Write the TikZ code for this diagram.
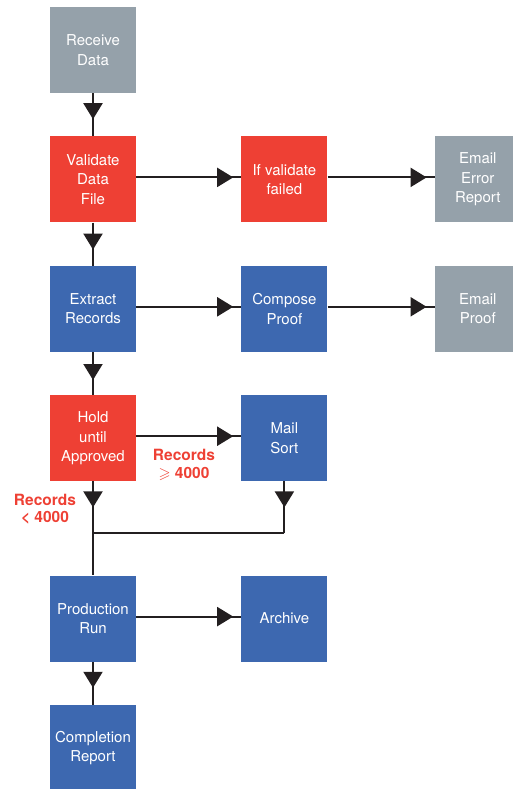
\documentclass[tikz,border=0pt]{standalone}
\usepackage{amssymb}
\usepackage{fontspec}
\setmainfont{TeX Gyre Heros}
\usetikzlibrary{positioning,arrows.meta,decorations.markings}

\definecolor{boxgray}{RGB}{149,161,170}
\definecolor{boxred}{RGB}{238,64,52}
\definecolor{boxblue}{RGB}{61,104,176}
\definecolor{linedark}{RGB}{35,31,32}

\tikzset{
  stepbox/.style={minimum width=86pt, minimum height=86pt, inner sep=0pt,
    text=white, align=center, font=\fontsize{15}{19.5}\selectfont},
  graybox/.style={stepbox, fill=boxgray},
  redbox/.style={stepbox, fill=boxred},
  bluebox/.style={stepbox, fill=boxblue},
  flow/.style={draw=linedark, line width=2pt, postaction={decorate},
    decoration={markings, mark=at position -#1 with
      {\arrow[linedark]{Triangle[width=19pt,length=16pt]}}}},
  flow/.default=8pt,
  condlabel/.style={text=boxred, align=center,
    font=\fontsize{15.5}{17.5}\selectfont\bfseries}
}

\begin{document}
\begin{tikzpicture}[x=1pt,y=-1pt]
  \useasboundingbox (0,0) rectangle (513,789);
  \clip (0,0) rectangle (513,789);

  % main column
  \node[graybox] (receive) at (93,50) {Receive\\Data};
  \node[redbox, below=43pt of receive] (validate) {Validate\\Data\\File};
  \node[bluebox, below=43pt of validate] (extract) {Extract\\Records};
  \node[redbox, below=43pt of extract] (hold) {Hold\\until\\Approved};
  \node[bluebox, below=94pt of hold] (prod) {Production\\Run};
  \node[bluebox, below=43pt of prod] (report) {Completion\\Report};

  % side branches
  \node[redbox, right=105pt of validate] (failed) {If validate\\failed};
  \node[graybox, right=107pt of failed] (errmail) {Email\\Error\\Report};
  \node[bluebox, right=105pt of extract] (proof) {Compose\\Proof};
  \node[graybox, right=107pt of proof] (proofmail) {Email\\Proof};
  \node[bluebox, right=105pt of hold] (sort) {Mail\\Sort};
  \node[bluebox, right=105pt of prod] (archive) {Archive};

  \node[condlabel] (big) at (184,465) {Records\\$\geqslant$ 4000};
  \node[condlabel] (small) at (45,509) {Records\\< 4000};

  \coordinate[below=52pt of hold.south] (join);

  \draw[flow=17pt] (receive) -- (validate);
  \draw[flow=16pt] (validate) -- (extract);
  \draw[flow=15pt] (extract) -- (hold);
  \draw[flow=17pt] (prod) -- (report);
  \draw[flow] ([yshift=2pt]validate.east) -- ([yshift=2pt]failed.west);
  \draw[flow] ([yshift=2pt]failed.east) -- ([yshift=2pt]errmail.west);
  \draw[flow] ([yshift=2pt]extract.east) -- ([yshift=2pt]proof.west);
  \draw[flow] ([yshift=2pt]proof.east) -- ([yshift=2pt]proofmail.west);
  \draw[flow] ([yshift=2pt]hold.east) -- ([yshift=2pt]sort.west);
  \draw[flow] ([yshift=2pt]prod.east) -- ([yshift=2pt]archive.west);

  % merge of both routes
  \draw[flow=26pt] (hold) -- (join);
  \draw[flow=26pt] (sort) -- (sort |- join);
  \draw[draw=linedark, line width=2pt] (sort |- join) -- (join) -- (prod);
\end{tikzpicture}
\end{document}
